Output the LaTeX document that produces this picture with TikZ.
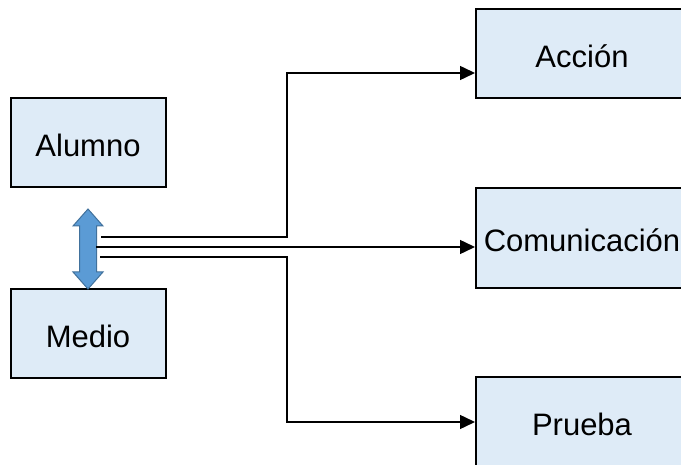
\documentclass[tikz,border=0pt]{standalone}
\usepackage{fontspec}
\setmainfont{Liberation Sans}
\usepackage{tikz}
\usetikzlibrary{arrows.meta}
\definecolor{boxfill}{HTML}{DEEBF7}
\definecolor{linkfill}{HTML}{5B9BD5}
\definecolor{linkdraw}{HTML}{41719C}
\tikzstyle{scheme}=[x=1pt, y=-1pt, font=\fontsize{31}{37}\selectfont]
\tikzstyle{box}=[rectangle, inner sep=0pt, draw, line width=2pt, fill=boxfill, text height=28pt, text depth=0pt]
\tikzstyle{small}=[box, minimum width=155pt, minimum height=89pt]
\tikzstyle{wide}=[box, minimum width=212pt]
\tikzstyle{link}=[draw=linkdraw, line width=1pt, fill=linkfill, line join=miter]
\tikzstyle{edge}=[line width=1.5pt, -{Triangle[length=15pt, width=14pt]}]

\begin{document}
\begin{tikzpicture}[scheme]
	\useasboundingbox (0,0) rectangle (681,465);

	%The left boxes
	\draw (88,143) node[small] (alumno) {Alumno};
	\draw (88,333.5) node[small] (medio) {Medio};

	%The double arrow between them
	\draw[link] (88,209) -- (103,226) -- (96.5,226) -- (96.5,272) -- (103,272)
		-- (88,289) -- (73,272) -- (79.5,272) -- (79.5,226) -- (73,226) -- cycle;

	%The right boxes
	\draw (582,53.5) node[wide, minimum height=89pt] (accion) {Acción};
	\draw (582,238) node[wide, minimum height=100pt] (comunic) {Comunicación};
	\draw (582,421.5) node[wide, minimum height=89pt] (prueba) {Prueba};

	%Start and bend points
	\coordinate (s1) at (101,237);
	\coordinate (s2) at (96,247);
	\coordinate (s3) at (100,257);
	\coordinate (j1) at (287,73);
	\coordinate (j3) at (287,422);

	%The connectors
	\draw[edge] (s1) -| (j1) -- (j1 -| accion.west);
	\draw[edge] (s2) -- (s2 -| comunic.west);
	\draw[edge] (s3) -| (j3) -- (j3 -| prueba.west);
\end{tikzpicture}
\end{document}
